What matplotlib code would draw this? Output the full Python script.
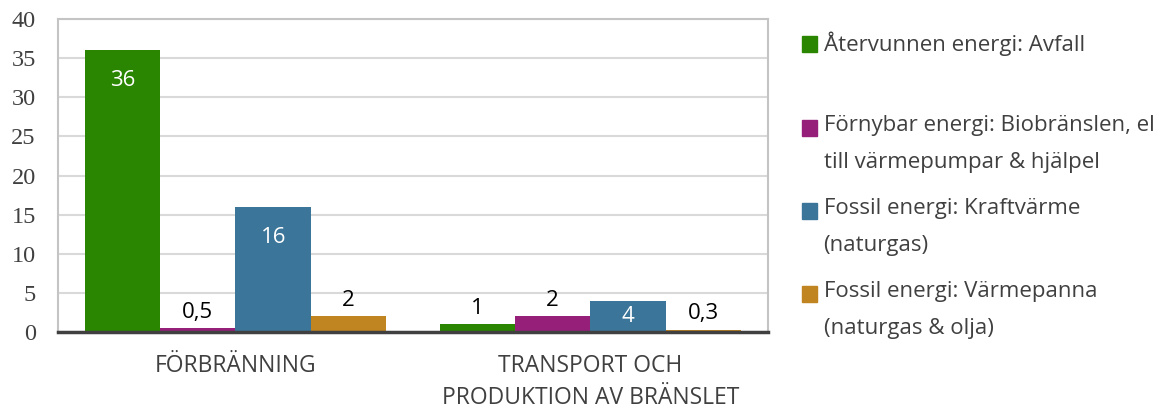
import numpy as np
import matplotlib
matplotlib.use("Agg")
import matplotlib.pyplot as plt
from matplotlib.patches import Rectangle

# data
categories = ["FÖRBRÄNNING", "TRANSPORT OCH\nPRODUKTION AV BRÄNSLET"]
series_names = [
    "Återvunnen energi: Avfall",
    "Förnybar energi: Biobränslen, el\ntill värmepumpar & hjälpel",
    "Fossil energi: Kraftvärme\n(naturgas)",
    "Fossil energi: Värmepanna\n(naturgas & olja)",
]
series_values = [
    [36, 1],
    [0.5, 2],
    [16, 4],
    [2, 0.3],
]
series_colors = ["#2a8500", "#961f7a", "#3b7599", "#c08421"]
label_inside = [[True, False], [False, False], [True, True], [False, False]]
yticks = [0, 5, 10, 15, 20, 25, 30, 35, 40]

SANS = "Open Sans"
TEXT = "#404040"

fig = plt.figure(figsize=(11.6, 4.12), dpi=100)
ax = fig.add_axes([0.05, 0.194, 0.612, 0.760])

x = np.arange(len(categories))
n = len(series_values)
width = 0.85 / n

for i, (vals, col) in enumerate(zip(series_values, series_colors)):
    pos = x - 0.425 + width * (i + 0.5)
    ax.bar(pos, vals, width, color=col, linewidth=0, zorder=3)
    for xp, v, inside in zip(pos, vals, label_inside[i]):
        txt = f"{v:g}".replace(".", ",")
        if inside:
            yv = max(v - 3.9, v / 2)
            ax.text(xp, yv, txt, ha="center", va="center", color="white",
                    fontsize=16, family=SANS, zorder=4)
        else:
            ax.annotate(txt, (xp, v), xytext=(0, 4), textcoords="offset points",
                        ha="center", va="bottom", color="black",
                        fontsize=16, family=SANS, zorder=4)

ax.set_xlim(-0.5, len(categories) - 0.5)
ax.set_ylim(0, 40)
ax.set_yticks(yticks)
ax.set_yticklabels([str(t) for t in yticks], family="Liberation Serif",
                   fontsize=17.5, color=TEXT)
ax.set_xticks(x)
ax.set_xticklabels(categories, family=SANS, fontsize=16.5, color=TEXT,
                   linespacing=1.45)
ax.tick_params(axis="both", length=0)
ax.tick_params(axis="x", pad=16)
ax.tick_params(axis="y", pad=16)
ax.grid(axis="y", color="#d9d9d9", linewidth=1.5, zorder=0)
for s in ["left", "top", "right"]:
    ax.spines[s].set_color("#c4c4c4")
    ax.spines[s].set_linewidth(1.5)
ax.spines["bottom"].set_color("#404040")
ax.spines["bottom"].set_linewidth(2.5)
ax.spines["bottom"].set_zorder(5)

# legend drawn manually so the square lines up with the first text line
leg_square_y = [0.893, 0.689, 0.488, 0.286]
for name, col, ly in zip(series_names, series_colors, leg_square_y):
    fig.patches.append(Rectangle((0.691, ly - 0.019), 0.0129, 0.038,
                                 transform=fig.transFigure, color=col))
    fig.text(0.710, ly + 0.031, name, ha="left", va="top", family=SANS,
             fontsize=16, color=TEXT, linespacing=2.0)

fig.savefig("out.png", dpi=100)
